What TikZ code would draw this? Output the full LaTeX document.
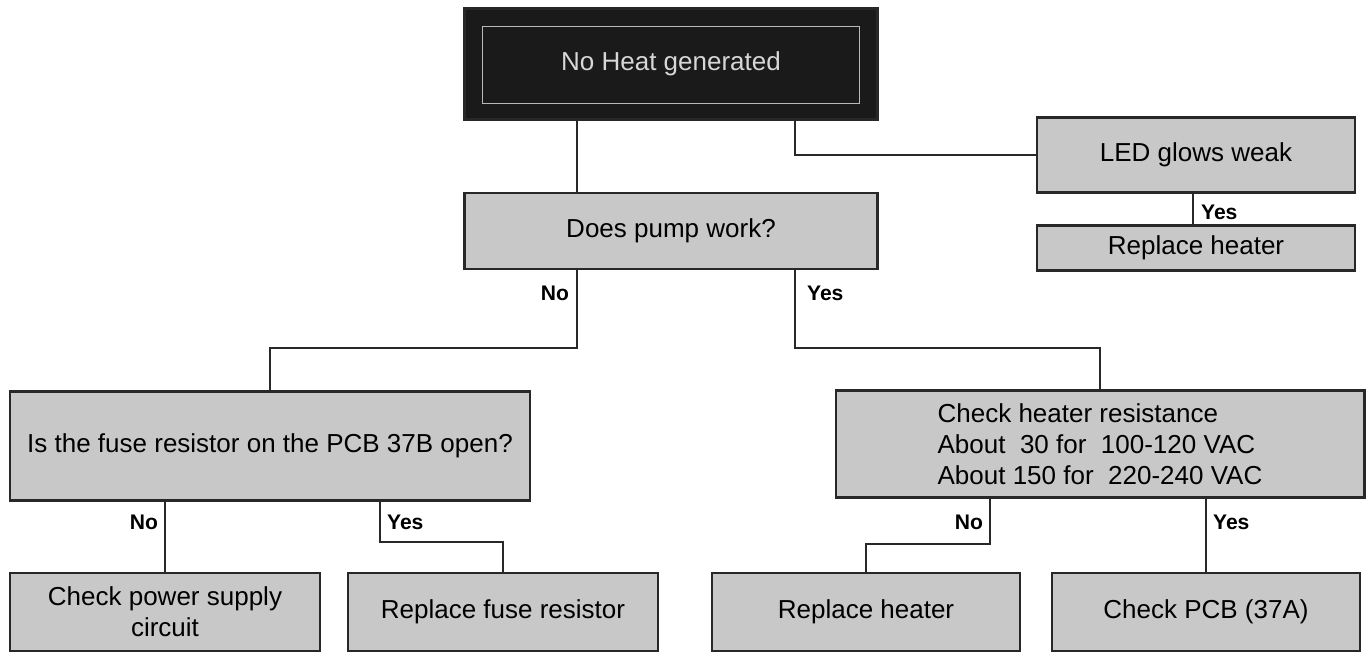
\documentclass[tikz,border=0pt]{standalone}
\usepackage{fontspec}
\setmainfont{Liberation Sans}
\usepackage{xcolor}
\usepackage{tikz}
\usetikzlibrary{positioning,calc}
\definecolor{boxgray}{RGB}{200,200,200}
\definecolor{topfill}{RGB}{26,26,26}
\definecolor{topline}{RGB}{185,185,185}
\definecolor{toptext}{RGB}{215,215,215}
\definecolor{linecol}{RGB}{40,40,40}

\begin{document}
\begin{tikzpicture}[x=0.02cm,y=-0.02cm,
  every node/.style={font=\fontsize{14.8}{17.5}\selectfont},
  box/.style={draw=linecol,line width=1.2pt,fill=boxgray,inner sep=0pt,align=center},
  ans/.style={font=\fontsize{12}{14}\selectfont\bfseries,inner sep=1pt},
  wire/.style={draw=linecol,line width=1.1pt}]
  \useasboundingbox[fill=white] (0,0) rectangle (1369,653);
  % Start
  \node[box,fill=topfill,text=toptext,minimum width=8.26cm,minimum height=2.22cm] (top) at (671,64) {No Heat generated};
  \draw[topline,line width=0.8pt] ($(top.north west)+(19,19)$) rectangle ($(top.south east)+(-19,-17)$);
  % Right branch
  \node[box,minimum width=6.36cm,minimum height=1.5cm] (led) at (1196,155) {LED glows weak};
  \node[box,minimum width=6.36cm,minimum height=0.9cm] (rheatA) at (1196,248) {Replace heater};
  % Pump
  \node[box,minimum width=8.26cm,minimum height=1.52cm] (pump) at (671,231) {Does pump work?};
  % Second level
  \node[box,minimum width=10.4cm,minimum height=2.18cm] (fuse) at (270,446) {Is the fuse resistor on the PCB 37B open?};
  \node[box,align=left,minimum width=10.58cm,minimum height=2.14cm] (hchk) at (1100,444)
    {Check heater resistance\\About\ \ 30 for\ \ 100-120 VAC\\About 150 for\ \ 220-240 VAC};
  % Bottom row
  \node[box,minimum width=6.2cm,minimum height=1.56cm] (power) at (165,612) {Check power supply\\circuit};
  \node[box,minimum width=6.2cm,minimum height=1.56cm] (rfuse) at (503,612) {Replace fuse resistor};
  \node[box,minimum width=6.16cm,minimum height=1.56cm] (rheatB) at (866,612) {Replace heater};
  \node[box,minimum width=6.16cm,minimum height=1.56cm] (pcb) at (1206,612) {Check PCB (37A)};
  % Branch points
  \coordinate (tl) at (577,0);
  \coordinate (tr) at (795,0);
  \coordinate (ly) at (1193,0);
  \coordinate (fy) at (380,0);
  \coordinate (hn) at (990,0);
  % Connectors
  \draw[wire] (top.south -| tl) -- (pump.north -| tl);
  \draw[wire] (top.south -| tr) |- (led.west);
  \draw[wire] (led.south -| ly) -- (rheatA.north -| ly);
  \draw[wire] (pump.south -| tl) -- ++(0,78) -| (fuse.north);
  \draw[wire] (pump.south -| tr) -- ++(0,78) -| (hchk.north);
  \draw[wire] (fuse.south -| power) -- (power.north);
  \draw[wire] (fuse.south -| fy) -- ++(0,40) -| (rfuse.north);
  \draw[wire] (hchk.south -| hn) -- ++(0,45) -| (rheatB.north);
  \draw[wire] (hchk.south -| pcb) -- (pcb.north);
  % Answers
  \node[ans,anchor=west] (yled) at (1199,212) {Yes};
  \node[ans,anchor=east] (npump) at (571,293) {No};
  \node[ans,anchor=west] (ypump) at (805,293) {Yes};
  \node[ans,anchor=east] (nfuse) at (160,522) {No};
  \node[ans,anchor=west] (yfuse) at (385,522) {Yes};
  \node[ans,anchor=east] (nheat) at (985,522) {No};
  \node[ans,anchor=west] (yheat) at (1211,522) {Yes};
\end{tikzpicture}
\end{document}
